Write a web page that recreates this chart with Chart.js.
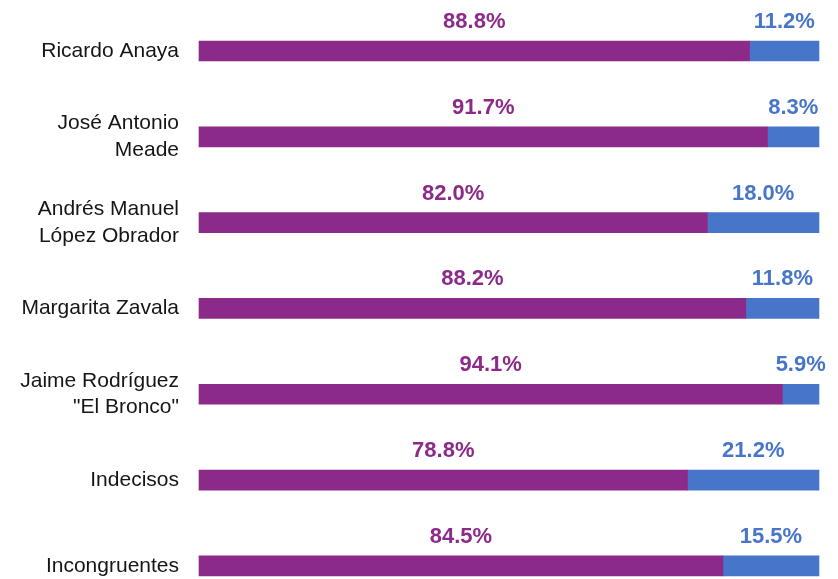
<!DOCTYPE html>
<html lang="es">
  <head>
    <meta charset="UTF-8">
    <title>Candidatos</title>
    <script src="https://cdn.jsdelivr.net/npm/chart.js"></script>
    <style>
      html, body { margin: 0; padding: 0; background: #fff; }
      #wrap { width: 838px; height: 579px; position: relative; }
    </style>
  </head>
  <body>
    <div id="wrap">
      <canvas id="myChart"></canvas>
    </div>
    <script>
      // Categories (multi-line where the reference wraps)
      const categories = [
        "Ricardo Anaya",
        ["José Antonio", "Meade"],
        ["Andrés Manuel", "López Obrador"],
        "Margarita Zavala",
        ["Jaime Rodríguez", "\"El Bronco\""],
        "Indecisos",
        "Incongruentes"
      ];
      const purpleValues = [88.8, 91.7, 82.0, 88.2, 94.1, 78.8, 84.5];
      const blueValues = [11.2, 8.3, 18.0, 11.8, 5.9, 21.2, 15.5];

      const purple = "#8C2A89";
      const blue = "#4775C9";

      // Draws the percentage above each bar segment
      const valueLabels = {
        id: "valueLabels",
        afterDatasetsDraw(chart) {
          const ctx = chart.ctx;
          ctx.save();
          ctx.font = "bold 22px 'Liberation Sans', Arial, sans-serif";
          ctx.textAlign = "center";
          ctx.textBaseline = "alphabetic";
          chart.data.datasets.forEach((ds, di) => {
            const meta = chart.getDatasetMeta(di);
            meta.data.forEach((bar, i) => {
              const text = ds.data[i].toFixed(1) + "%";
              const w = ctx.measureText(text).width;
              let cx = (bar.x + bar.base) / 2;
              if (cx + w / 2 > chart.width - 2) cx = chart.width - 2 - w / 2;
              const top = bar.y - bar.height / 2;
              ctx.fillStyle = ds.backgroundColor;
              ctx.fillText(text, cx, top - 13);
            });
          });
          ctx.restore();
        }
      };

      const ctx = document.getElementById("myChart").getContext("2d");
      new Chart(ctx, {
        type: "bar",
        data: {
          labels: categories,
          datasets: [
            { label: "A", data: purpleValues, backgroundColor: purple, barThickness: 20, clip: false },
            { label: "B", data: blueValues, backgroundColor: blue, barThickness: 20, clip: false }
          ]
        },
        options: {
          indexAxis: "y",
          responsive: true,
          maintainAspectRatio: false,
          animation: false,
          layout: { padding: { top: 51, bottom: 11.5, right: 19, left: 0 } },
          plugins: {
            legend: { display: false },
            tooltip: { enabled: false }
          },
          scales: {
            x: {
              stacked: true,
              min: 0,
              max: 100,
              display: false
            },
            y: {
              stacked: true,
              offset: false,
              grid: {
                display: true,
                drawOnChartArea: false,
                drawTicks: true,
                tickLength: 20,
                color: "rgba(0,0,0,0)",
                tickColor: "rgba(0,0,0,0)"
              },
              border: { display: false },
              ticks: {
                color: "#151515",
                padding: 0,
                font: { family: "'Liberation Sans', Arial, sans-serif", size: 21, lineHeight: 1.25 }
              },
              afterFit(scale) { scale.width = 199; }
            }
          }
        },
        plugins: [valueLabels]
      });
    </script>
  </body>
</html>
